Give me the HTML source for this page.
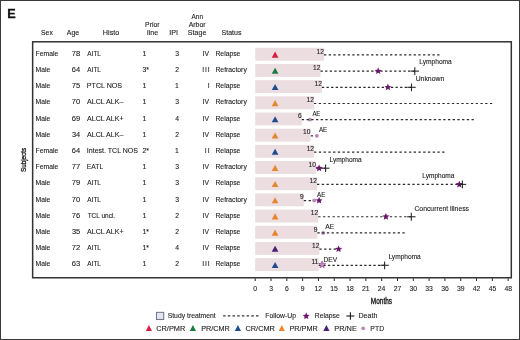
<!DOCTYPE html>
<html><head><meta charset="utf-8"><style>
html,body{margin:0;padding:0;background:#fff;}
svg{display:block;font-family:"Liberation Sans",sans-serif;will-change:transform;}
</style></head><body>
<svg width="520" height="340" viewBox="0 0 520 340">
<rect width="520" height="340" fill="#fff"/>
<rect x="0.5" y="0.5" width="519" height="339" fill="none" stroke="#3a3a3a" stroke-width="1"/>
<text x="7.30" y="17.90" font-size="13" font-weight="bold" fill="#111" textLength="8.44" lengthAdjust="spacingAndGlyphs" stroke="#111" stroke-width="0.3">E</text>
<text x="40.99" y="35.30" font-size="6.6" fill="#222" textLength="11.89" lengthAdjust="spacingAndGlyphs" stroke="#222" stroke-width="0.1">Sex</text>
<text x="66.79" y="35.30" font-size="6.6" fill="#222" textLength="12.32" lengthAdjust="spacingAndGlyphs" stroke="#222" stroke-width="0.1">Age</text>
<text x="102.81" y="35.30" font-size="6.6" fill="#222" textLength="16.50" lengthAdjust="spacingAndGlyphs" stroke="#222" stroke-width="0.1">Histo</text>
<text x="145.14" y="26.80" font-size="6.6" fill="#222" textLength="14.48" lengthAdjust="spacingAndGlyphs" stroke="#222" stroke-width="0.1">Prior</text>
<text x="147.12" y="35.00" font-size="6.6" fill="#222" textLength="11.10" lengthAdjust="spacingAndGlyphs" stroke="#222" stroke-width="0.1">line</text>
<text x="169.23" y="35.00" font-size="6.6" fill="#222" textLength="8.83" lengthAdjust="spacingAndGlyphs" stroke="#222" stroke-width="0.1">IPI</text>
<text x="191.49" y="18.50" font-size="6.6" fill="#222" textLength="11.53" lengthAdjust="spacingAndGlyphs" stroke="#222" stroke-width="0.1">Ann</text>
<text x="188.69" y="26.80" font-size="6.6" fill="#222" textLength="16.93" lengthAdjust="spacingAndGlyphs" stroke="#222" stroke-width="0.1">Arbor</text>
<text x="187.88" y="35.00" font-size="6.6" fill="#222" textLength="18.43" lengthAdjust="spacingAndGlyphs" stroke="#222" stroke-width="0.1">Stage</text>
<text x="221.58" y="35.00" font-size="6.6" fill="#222" textLength="19.87" lengthAdjust="spacingAndGlyphs" stroke="#222" stroke-width="0.1">Status</text>
<text x="35.54" y="55.95" font-size="6.8" fill="#222" stroke="#222" stroke-width="0.1">Female</text>
<text x="71.81" y="55.95" font-size="6.8" fill="#222" textLength="8.42" lengthAdjust="spacingAndGlyphs" stroke="#222" stroke-width="0.1">78</text>
<text x="87.29" y="55.95" font-size="6.8" fill="#222" textLength="13.63" lengthAdjust="spacingAndGlyphs" stroke="#222" stroke-width="0.1">AITL</text>
<text x="142.60" y="55.95" font-size="6.8" fill="#222" stroke="#222" stroke-width="0.1">1</text>
<text x="175.23" y="55.95" font-size="6.8" fill="#222" stroke="#222" stroke-width="0.1">3</text>
<text x="202.61" y="55.95" font-size="6.8" fill="#222" stroke="#222" stroke-width="0.1">IV</text>
<text x="215.44" y="55.95" font-size="6.8" fill="#222" stroke="#222" stroke-width="0.1">Relapse</text>
<text x="35.54" y="72.13" font-size="6.8" fill="#222" stroke="#222" stroke-width="0.1">Male</text>
<text x="71.82" y="72.13" font-size="6.8" fill="#222" textLength="8.30" lengthAdjust="spacingAndGlyphs" stroke="#222" stroke-width="0.1">64</text>
<text x="87.29" y="72.13" font-size="6.8" fill="#222" textLength="13.63" lengthAdjust="spacingAndGlyphs" stroke="#222" stroke-width="0.1">AITL</text>
<text x="142.60" y="72.13" font-size="6.8" fill="#222" stroke="#222" stroke-width="0.1">3*</text>
<text x="175.21" y="72.13" font-size="6.8" fill="#222" stroke="#222" stroke-width="0.1">2</text>
<text x="202.27" y="72.13" font-size="6.8" fill="#222" textLength="7.36" lengthAdjust="spacing" stroke="#222" stroke-width="0.1">III</text>
<text x="215.44" y="72.13" font-size="6.8" fill="#222" stroke="#222" stroke-width="0.1">Refractory</text>
<text x="35.54" y="88.31" font-size="6.8" fill="#222" stroke="#222" stroke-width="0.1">Male</text>
<text x="71.81" y="88.31" font-size="6.8" fill="#222" textLength="8.40" lengthAdjust="spacingAndGlyphs" stroke="#222" stroke-width="0.1">75</text>
<text x="86.82" y="88.31" font-size="6.8" fill="#222" textLength="35.30" lengthAdjust="spacingAndGlyphs" stroke="#222" stroke-width="0.1">PTCL NOS</text>
<text x="142.60" y="88.31" font-size="6.8" fill="#222" stroke="#222" stroke-width="0.1">1</text>
<text x="175.12" y="88.31" font-size="6.8" fill="#222" stroke="#222" stroke-width="0.1">1</text>
<text x="207.74" y="88.31" font-size="6.8" fill="#222" stroke="#222" stroke-width="0.1">I</text>
<text x="215.44" y="88.31" font-size="6.8" fill="#222" stroke="#222" stroke-width="0.1">Relapse</text>
<text x="35.54" y="104.49" font-size="6.8" fill="#222" stroke="#222" stroke-width="0.1">Male</text>
<text x="71.81" y="104.49" font-size="6.8" fill="#222" textLength="8.38" lengthAdjust="spacingAndGlyphs" stroke="#222" stroke-width="0.1">70</text>
<text x="86.99" y="104.49" font-size="6.8" fill="#222" textLength="36.52" lengthAdjust="spacingAndGlyphs" stroke="#222" stroke-width="0.1">ALCL ALK–</text>
<text x="142.60" y="104.49" font-size="6.8" fill="#222" stroke="#222" stroke-width="0.1">1</text>
<text x="175.23" y="104.49" font-size="6.8" fill="#222" stroke="#222" stroke-width="0.1">3</text>
<text x="202.61" y="104.49" font-size="6.8" fill="#222" stroke="#222" stroke-width="0.1">IV</text>
<text x="215.44" y="104.49" font-size="6.8" fill="#222" stroke="#222" stroke-width="0.1">Refractory</text>
<text x="35.54" y="120.67" font-size="6.8" fill="#222" stroke="#222" stroke-width="0.1">Male</text>
<text x="71.81" y="120.67" font-size="6.8" fill="#222" textLength="8.45" lengthAdjust="spacingAndGlyphs" stroke="#222" stroke-width="0.1">69</text>
<text x="86.99" y="120.67" font-size="6.8" fill="#222" textLength="36.56" lengthAdjust="spacingAndGlyphs" stroke="#222" stroke-width="0.1">ALCL ALK+</text>
<text x="142.60" y="120.67" font-size="6.8" fill="#222" stroke="#222" stroke-width="0.1">1</text>
<text x="175.23" y="120.67" font-size="6.8" fill="#222" stroke="#222" stroke-width="0.1">4</text>
<text x="202.61" y="120.67" font-size="6.8" fill="#222" stroke="#222" stroke-width="0.1">IV</text>
<text x="215.44" y="120.67" font-size="6.8" fill="#222" stroke="#222" stroke-width="0.1">Relapse</text>
<text x="35.54" y="136.85" font-size="6.8" fill="#222" stroke="#222" stroke-width="0.1">Male</text>
<text x="71.92" y="136.85" font-size="6.8" fill="#222" textLength="8.20" lengthAdjust="spacingAndGlyphs" stroke="#222" stroke-width="0.1">34</text>
<text x="86.99" y="136.85" font-size="6.8" fill="#222" textLength="36.52" lengthAdjust="spacingAndGlyphs" stroke="#222" stroke-width="0.1">ALCL ALK–</text>
<text x="142.60" y="136.85" font-size="6.8" fill="#222" stroke="#222" stroke-width="0.1">1</text>
<text x="175.21" y="136.85" font-size="6.8" fill="#222" stroke="#222" stroke-width="0.1">2</text>
<text x="202.61" y="136.85" font-size="6.8" fill="#222" stroke="#222" stroke-width="0.1">IV</text>
<text x="215.44" y="136.85" font-size="6.8" fill="#222" stroke="#222" stroke-width="0.1">Relapse</text>
<text x="35.54" y="153.03" font-size="6.8" fill="#222" stroke="#222" stroke-width="0.1">Female</text>
<text x="71.82" y="153.03" font-size="6.8" fill="#222" textLength="8.30" lengthAdjust="spacingAndGlyphs" stroke="#222" stroke-width="0.1">64</text>
<text x="86.86" y="153.03" font-size="6.8" fill="#222" textLength="51.16" lengthAdjust="spacingAndGlyphs" stroke="#222" stroke-width="0.1">Intest. TCL NOS</text>
<text x="142.60" y="153.03" font-size="6.8" fill="#222" stroke="#222" stroke-width="0.1">2*</text>
<text x="175.12" y="153.03" font-size="6.8" fill="#222" stroke="#222" stroke-width="0.1">1</text>
<text x="204.67" y="153.03" font-size="6.8" fill="#222" textLength="5.06" lengthAdjust="spacing" stroke="#222" stroke-width="0.1">II</text>
<text x="215.44" y="153.03" font-size="6.8" fill="#222" stroke="#222" stroke-width="0.1">Relapse</text>
<text x="35.54" y="169.21" font-size="6.8" fill="#222" stroke="#222" stroke-width="0.1">Female</text>
<text x="71.81" y="169.21" font-size="6.8" fill="#222" textLength="8.47" lengthAdjust="spacingAndGlyphs" stroke="#222" stroke-width="0.1">77</text>
<text x="86.87" y="169.21" font-size="6.8" fill="#222" textLength="16.25" lengthAdjust="spacingAndGlyphs" stroke="#222" stroke-width="0.1">EATL</text>
<text x="142.60" y="169.21" font-size="6.8" fill="#222" stroke="#222" stroke-width="0.1">1</text>
<text x="175.23" y="169.21" font-size="6.8" fill="#222" stroke="#222" stroke-width="0.1">3</text>
<text x="202.61" y="169.21" font-size="6.8" fill="#222" stroke="#222" stroke-width="0.1">IV</text>
<text x="215.44" y="169.21" font-size="6.8" fill="#222" stroke="#222" stroke-width="0.1">Refractory</text>
<text x="35.54" y="185.39" font-size="6.8" fill="#222" stroke="#222" stroke-width="0.1">Male</text>
<text x="71.81" y="185.39" font-size="6.8" fill="#222" textLength="8.45" lengthAdjust="spacingAndGlyphs" stroke="#222" stroke-width="0.1">79</text>
<text x="87.29" y="185.39" font-size="6.8" fill="#222" textLength="13.63" lengthAdjust="spacingAndGlyphs" stroke="#222" stroke-width="0.1">AITL</text>
<text x="142.60" y="185.39" font-size="6.8" fill="#222" stroke="#222" stroke-width="0.1">1</text>
<text x="175.23" y="185.39" font-size="6.8" fill="#222" stroke="#222" stroke-width="0.1">3</text>
<text x="202.61" y="185.39" font-size="6.8" fill="#222" stroke="#222" stroke-width="0.1">IV</text>
<text x="215.44" y="185.39" font-size="6.8" fill="#222" stroke="#222" stroke-width="0.1">Relapse</text>
<text x="35.54" y="201.57" font-size="6.8" fill="#222" stroke="#222" stroke-width="0.1">Male</text>
<text x="71.81" y="201.57" font-size="6.8" fill="#222" textLength="8.38" lengthAdjust="spacingAndGlyphs" stroke="#222" stroke-width="0.1">70</text>
<text x="87.29" y="201.57" font-size="6.8" fill="#222" textLength="13.63" lengthAdjust="spacingAndGlyphs" stroke="#222" stroke-width="0.1">AITL</text>
<text x="142.60" y="201.57" font-size="6.8" fill="#222" stroke="#222" stroke-width="0.1">1</text>
<text x="175.23" y="201.57" font-size="6.8" fill="#222" stroke="#222" stroke-width="0.1">3</text>
<text x="202.61" y="201.57" font-size="6.8" fill="#222" stroke="#222" stroke-width="0.1">IV</text>
<text x="215.44" y="201.57" font-size="6.8" fill="#222" stroke="#222" stroke-width="0.1">Refractory</text>
<text x="35.54" y="217.75" font-size="6.8" fill="#222" stroke="#222" stroke-width="0.1">Male</text>
<text x="71.81" y="217.75" font-size="6.8" fill="#222" textLength="8.42" lengthAdjust="spacingAndGlyphs" stroke="#222" stroke-width="0.1">76</text>
<text x="87.66" y="217.75" font-size="6.8" fill="#222" textLength="27.53" lengthAdjust="spacingAndGlyphs" stroke="#222" stroke-width="0.1">TCL uncl.</text>
<text x="142.60" y="217.75" font-size="6.8" fill="#222" stroke="#222" stroke-width="0.1">1</text>
<text x="175.21" y="217.75" font-size="6.8" fill="#222" stroke="#222" stroke-width="0.1">2</text>
<text x="202.61" y="217.75" font-size="6.8" fill="#222" stroke="#222" stroke-width="0.1">IV</text>
<text x="215.44" y="217.75" font-size="6.8" fill="#222" stroke="#222" stroke-width="0.1">Relapse</text>
<text x="35.54" y="233.93" font-size="6.8" fill="#222" stroke="#222" stroke-width="0.1">Male</text>
<text x="71.92" y="233.93" font-size="6.8" fill="#222" textLength="8.30" lengthAdjust="spacingAndGlyphs" stroke="#222" stroke-width="0.1">35</text>
<text x="86.99" y="233.93" font-size="6.8" fill="#222" textLength="36.56" lengthAdjust="spacingAndGlyphs" stroke="#222" stroke-width="0.1">ALCL ALK+</text>
<text x="142.60" y="233.93" font-size="6.8" fill="#222" stroke="#222" stroke-width="0.1">1*</text>
<text x="175.21" y="233.93" font-size="6.8" fill="#222" stroke="#222" stroke-width="0.1">2</text>
<text x="202.61" y="233.93" font-size="6.8" fill="#222" stroke="#222" stroke-width="0.1">IV</text>
<text x="215.44" y="233.93" font-size="6.8" fill="#222" stroke="#222" stroke-width="0.1">Relapse</text>
<text x="35.54" y="250.11" font-size="6.8" fill="#222" stroke="#222" stroke-width="0.1">Male</text>
<text x="71.81" y="250.11" font-size="6.8" fill="#222" textLength="8.47" lengthAdjust="spacingAndGlyphs" stroke="#222" stroke-width="0.1">72</text>
<text x="87.29" y="250.11" font-size="6.8" fill="#222" textLength="13.63" lengthAdjust="spacingAndGlyphs" stroke="#222" stroke-width="0.1">AITL</text>
<text x="142.60" y="250.11" font-size="6.8" fill="#222" stroke="#222" stroke-width="0.1">1*</text>
<text x="175.23" y="250.11" font-size="6.8" fill="#222" stroke="#222" stroke-width="0.1">4</text>
<text x="202.61" y="250.11" font-size="6.8" fill="#222" stroke="#222" stroke-width="0.1">IV</text>
<text x="215.44" y="250.11" font-size="6.8" fill="#222" stroke="#222" stroke-width="0.1">Relapse</text>
<text x="35.54" y="266.29" font-size="6.8" fill="#222" stroke="#222" stroke-width="0.1">Male</text>
<text x="71.82" y="266.29" font-size="6.8" fill="#222" textLength="8.42" lengthAdjust="spacingAndGlyphs" stroke="#222" stroke-width="0.1">63</text>
<text x="87.29" y="266.29" font-size="6.8" fill="#222" textLength="13.63" lengthAdjust="spacingAndGlyphs" stroke="#222" stroke-width="0.1">AITL</text>
<text x="142.60" y="266.29" font-size="6.8" fill="#222" stroke="#222" stroke-width="0.1">1</text>
<text x="175.21" y="266.29" font-size="6.8" fill="#222" stroke="#222" stroke-width="0.1">2</text>
<text x="202.27" y="266.29" font-size="6.8" fill="#222" textLength="7.36" lengthAdjust="spacing" stroke="#222" stroke-width="0.1">III</text>
<text x="215.44" y="266.29" font-size="6.8" fill="#222" stroke="#222" stroke-width="0.1">Relapse</text>
<rect x="32.65" y="41.8" width="478.65" height="235.95" fill="none" stroke="#333" stroke-width="1.5"/>
<line x1="255.20" y1="278.3" x2="255.20" y2="281" stroke="#222" stroke-width="1"/>
<text x="253.31" y="290.70" font-size="6.8" fill="#222" stroke="#222" stroke-width="0.1">0</text>
<line x1="271.01" y1="278.3" x2="271.01" y2="281" stroke="#222" stroke-width="1"/>
<text x="269.14" y="290.70" font-size="6.8" fill="#222" stroke="#222" stroke-width="0.1">3</text>
<line x1="286.82" y1="278.3" x2="286.82" y2="281" stroke="#222" stroke-width="1"/>
<text x="284.91" y="290.70" font-size="6.8" fill="#222" stroke="#222" stroke-width="0.1">6</text>
<line x1="302.63" y1="278.3" x2="302.63" y2="281" stroke="#222" stroke-width="1"/>
<text x="300.74" y="290.70" font-size="6.8" fill="#222" stroke="#222" stroke-width="0.1">9</text>
<line x1="318.44" y1="278.3" x2="318.44" y2="281" stroke="#222" stroke-width="1"/>
<text x="314.57" y="290.70" font-size="6.8" fill="#222" stroke="#222" stroke-width="0.1">12</text>
<line x1="334.25" y1="278.3" x2="334.25" y2="281" stroke="#222" stroke-width="1"/>
<text x="330.35" y="290.70" font-size="6.8" fill="#222" stroke="#222" stroke-width="0.1">15</text>
<line x1="350.06" y1="278.3" x2="350.06" y2="281" stroke="#222" stroke-width="1"/>
<text x="346.17" y="290.70" font-size="6.8" fill="#222" stroke="#222" stroke-width="0.1">18</text>
<line x1="365.87" y1="278.3" x2="365.87" y2="281" stroke="#222" stroke-width="1"/>
<text x="362.08" y="290.70" font-size="6.8" fill="#222" stroke="#222" stroke-width="0.1">21</text>
<line x1="381.68" y1="278.3" x2="381.68" y2="281" stroke="#222" stroke-width="1"/>
<text x="377.83" y="290.70" font-size="6.8" fill="#222" stroke="#222" stroke-width="0.1">24</text>
<line x1="397.49" y1="278.3" x2="397.49" y2="281" stroke="#222" stroke-width="1"/>
<text x="393.71" y="290.70" font-size="6.8" fill="#222" stroke="#222" stroke-width="0.1">27</text>
<line x1="413.30" y1="278.3" x2="413.30" y2="281" stroke="#222" stroke-width="1"/>
<text x="409.52" y="290.70" font-size="6.8" fill="#222" stroke="#222" stroke-width="0.1">30</text>
<line x1="429.11" y1="278.3" x2="429.11" y2="281" stroke="#222" stroke-width="1"/>
<text x="425.35" y="290.70" font-size="6.8" fill="#222" stroke="#222" stroke-width="0.1">33</text>
<line x1="444.92" y1="278.3" x2="444.92" y2="281" stroke="#222" stroke-width="1"/>
<text x="441.16" y="290.70" font-size="6.8" fill="#222" stroke="#222" stroke-width="0.1">36</text>
<line x1="460.73" y1="278.3" x2="460.73" y2="281" stroke="#222" stroke-width="1"/>
<text x="456.98" y="290.70" font-size="6.8" fill="#222" stroke="#222" stroke-width="0.1">39</text>
<line x1="476.54" y1="278.3" x2="476.54" y2="281" stroke="#222" stroke-width="1"/>
<text x="472.85" y="290.70" font-size="6.8" fill="#222" stroke="#222" stroke-width="0.1">42</text>
<line x1="492.35" y1="278.3" x2="492.35" y2="281" stroke="#222" stroke-width="1"/>
<text x="488.63" y="290.70" font-size="6.8" fill="#222" stroke="#222" stroke-width="0.1">45</text>
<line x1="508.16" y1="278.3" x2="508.16" y2="281" stroke="#222" stroke-width="1"/>
<text x="504.45" y="290.70" font-size="6.8" fill="#222" stroke="#222" stroke-width="0.1">48</text>
<text x="370.87" y="303.60" font-size="8.8" fill="#1a1a1a" textLength="21.16" lengthAdjust="spacingAndGlyphs" stroke="#1a1a1a" stroke-width="0.4">Months</text>
<g transform="translate(25.5,159.9) rotate(-90)"><text x="-12.19" y="0.00" font-size="7.6" fill="#1a1a1a" textLength="24.32" lengthAdjust="spacingAndGlyphs" stroke="#1a1a1a" stroke-width="0.35">Subjects</text></g>
<rect x="255.20" y="47.80" width="68.80" height="12.9" fill="#ecdde1"/>
<rect x="255.20" y="63.98" width="65.30" height="12.9" fill="#ecdde1"/>
<rect x="255.20" y="80.16" width="66.70" height="12.9" fill="#ecdde1"/>
<rect x="255.20" y="96.34" width="58.80" height="12.9" fill="#ecdde1"/>
<rect x="255.20" y="112.52" width="46.60" height="12.9" fill="#ecdde1"/>
<rect x="255.20" y="128.70" width="55.40" height="12.9" fill="#ecdde1"/>
<rect x="255.20" y="144.88" width="58.90" height="12.9" fill="#ecdde1"/>
<rect x="255.20" y="161.06" width="60.80" height="12.9" fill="#ecdde1"/>
<rect x="255.20" y="177.24" width="61.80" height="12.9" fill="#ecdde1"/>
<rect x="255.20" y="193.42" width="48.60" height="12.9" fill="#ecdde1"/>
<rect x="255.20" y="209.60" width="63.00" height="12.9" fill="#ecdde1"/>
<rect x="255.20" y="225.78" width="62.20" height="12.9" fill="#ecdde1"/>
<rect x="255.20" y="241.96" width="64.20" height="12.9" fill="#ecdde1"/>
<rect x="255.20" y="258.14" width="63.60" height="12.9" fill="#ecdde1"/>
<polygon points="275.10,51.55 278.45,57.65 271.75,57.65" fill="#d4213d"/>
<polygon points="275.10,67.73 278.45,73.83 271.75,73.83" fill="#1b7b45"/>
<polygon points="275.10,83.91 278.45,90.01 271.75,90.01" fill="#1f4d8e"/>
<polygon points="275.10,100.09 278.45,106.19 271.75,106.19" fill="#e8862e"/>
<polygon points="275.10,116.27 278.45,122.37 271.75,122.37" fill="#1f4d8e"/>
<polygon points="275.10,132.45 278.45,138.55 271.75,138.55" fill="#e8862e"/>
<polygon points="275.10,148.63 278.45,154.73 271.75,154.73" fill="#1f4d8e"/>
<polygon points="275.10,164.81 278.45,170.91 271.75,170.91" fill="#e8862e"/>
<polygon points="275.10,180.99 278.45,187.09 271.75,187.09" fill="#e8862e"/>
<polygon points="275.10,197.17 278.45,203.27 271.75,203.27" fill="#e8862e"/>
<polygon points="275.10,213.35 278.45,219.45 271.75,219.45" fill="#e8862e"/>
<polygon points="275.10,229.53 278.45,235.63 271.75,235.63" fill="#e8862e"/>
<polygon points="275.10,245.71 278.45,251.81 271.75,251.81" fill="#4b1f78"/>
<polygon points="275.10,261.89 278.45,267.99 271.75,267.99" fill="#1f4d8e"/>
<text x="316.59" y="53.55" font-size="6.6" fill="#222" stroke="#222" stroke-width="0.1">12</text>
<text x="313.09" y="69.73" font-size="6.6" fill="#222" stroke="#222" stroke-width="0.1">12</text>
<text x="314.49" y="85.91" font-size="6.6" fill="#222" stroke="#222" stroke-width="0.1">12</text>
<text x="306.59" y="102.09" font-size="6.6" fill="#222" stroke="#222" stroke-width="0.1">12</text>
<text x="298.02" y="118.27" font-size="6.6" fill="#222" stroke="#222" stroke-width="0.1">6</text>
<text x="303.12" y="134.45" font-size="6.6" fill="#222" stroke="#222" stroke-width="0.1">10</text>
<text x="306.69" y="150.63" font-size="6.6" fill="#222" stroke="#222" stroke-width="0.1">12</text>
<text x="308.52" y="166.81" font-size="6.6" fill="#222" stroke="#222" stroke-width="0.1">10</text>
<text x="309.59" y="182.99" font-size="6.6" fill="#222" stroke="#222" stroke-width="0.1">12</text>
<text x="300.04" y="199.17" font-size="6.6" fill="#222" stroke="#222" stroke-width="0.1">9</text>
<text x="310.79" y="215.35" font-size="6.6" fill="#222" stroke="#222" stroke-width="0.1">12</text>
<text x="313.64" y="231.53" font-size="6.6" fill="#222" stroke="#222" stroke-width="0.1">9</text>
<text x="311.99" y="247.71" font-size="6.6" fill="#222" stroke="#222" stroke-width="0.1">12</text>
<text x="311.38" y="263.89" font-size="6.6" fill="#222" stroke="#222" stroke-width="0.1">11</text>
<line x1="324.00" y1="54.95" x2="439.50" y2="54.95" stroke="#2a2a2a" stroke-width="1.2" stroke-dasharray="2.3 2.416"/>
<line x1="320.50" y1="71.13" x2="414.80" y2="71.13" stroke="#2a2a2a" stroke-width="1.2" stroke-dasharray="2.3 2.305"/>
<polygon points="378.20,67.43 379.22,69.72 381.72,69.99 379.85,71.67 380.37,74.12 378.20,72.87 376.03,74.12 376.55,71.67 374.68,69.99 377.18,69.72" fill="#6b1a6b"/>
<line x1="410.60" y1="71.13" x2="419.00" y2="71.13" stroke="#2a2a2a" stroke-width="1.1"/><line x1="414.80" y1="67.23" x2="414.80" y2="75.03" stroke="#2a2a2a" stroke-width="1.1"/>
<text x="419.26" y="64.20" font-size="6.5" fill="#222" textLength="32.54" lengthAdjust="spacingAndGlyphs" stroke="#222" stroke-width="0.1">Lymphoma</text>
<line x1="321.90" y1="87.31" x2="411.50" y2="87.31" stroke="#2a2a2a" stroke-width="1.2" stroke-dasharray="2.3 2.300"/>
<polygon points="387.90,83.61 388.92,85.90 391.42,86.17 389.55,87.85 390.07,90.30 387.90,89.05 385.73,90.30 386.25,87.85 384.38,86.17 386.88,85.90" fill="#6b1a6b"/>
<line x1="407.30" y1="87.31" x2="415.70" y2="87.31" stroke="#2a2a2a" stroke-width="1.1"/><line x1="411.50" y1="83.41" x2="411.50" y2="91.21" stroke="#2a2a2a" stroke-width="1.1"/>
<text x="415.67" y="81.00" font-size="6.5" fill="#222" textLength="28.57" lengthAdjust="spacingAndGlyphs" stroke="#222" stroke-width="0.1">Unknown</text>
<line x1="314.00" y1="103.49" x2="492.30" y2="103.49" stroke="#2a2a2a" stroke-width="1.2" stroke-dasharray="2.3 2.455"/>
<circle cx="309.90" cy="119.67" r="1.95" fill="#b98ab6"/>
<line x1="301.80" y1="119.67" x2="473.80" y2="119.67" stroke="#2a2a2a" stroke-width="1.2" stroke-dasharray="2.3 2.414"/>
<text x="312.39" y="115.60" font-size="6.5" fill="#222" textLength="7.97" lengthAdjust="spacingAndGlyphs" stroke="#222" stroke-width="0.1">AE</text>
<line x1="310.80" y1="135.85" x2="313.20" y2="135.85" stroke="#2a2a2a" stroke-width="1.2" stroke-dasharray="2.3 2.500"/>
<circle cx="316.90" cy="135.85" r="1.95" fill="#b98ab6"/>
<text x="318.99" y="131.80" font-size="6.5" fill="#222" textLength="8.28" lengthAdjust="spacingAndGlyphs" stroke="#222" stroke-width="0.1">AE</text>
<line x1="314.10" y1="152.03" x2="444.50" y2="152.03" stroke="#2a2a2a" stroke-width="1.2" stroke-dasharray="2.3 2.443"/>
<line x1="316.00" y1="168.21" x2="325.60" y2="168.21" stroke="#2a2a2a" stroke-width="1.2" stroke-dasharray="2.3 1.700"/>
<polygon points="319.10,164.51 320.12,166.80 322.62,167.07 320.75,168.75 321.27,171.20 319.10,169.95 316.93,171.20 317.45,168.75 315.58,167.07 318.08,166.80" fill="#6b1a6b"/>
<line x1="321.80" y1="168.21" x2="329.40" y2="168.21" stroke="#2a2a2a" stroke-width="1.1"/><line x1="325.60" y1="164.41" x2="325.60" y2="172.01" stroke="#2a2a2a" stroke-width="1.1"/>
<text x="329.47" y="161.50" font-size="6.5" fill="#222" textLength="32.23" lengthAdjust="spacingAndGlyphs" stroke="#222" stroke-width="0.1">Lymphoma</text>
<line x1="317.00" y1="184.39" x2="462.40" y2="184.39" stroke="#2a2a2a" stroke-width="1.2" stroke-dasharray="2.3 2.468"/>
<polygon points="459.30,180.69 460.32,182.98 462.82,183.25 460.95,184.93 461.47,187.38 459.30,186.13 457.13,187.38 457.65,184.93 455.78,183.25 458.28,182.98" fill="#6b1a6b"/>
<line x1="458.60" y1="184.39" x2="466.20" y2="184.39" stroke="#2a2a2a" stroke-width="1.1"/><line x1="462.40" y1="180.59" x2="462.40" y2="188.19" stroke="#2a2a2a" stroke-width="1.1"/>
<text x="422.27" y="178.00" font-size="6.5" fill="#222" textLength="32.13" lengthAdjust="spacingAndGlyphs" stroke="#222" stroke-width="0.1">Lymphoma</text>
<line x1="303.80" y1="200.57" x2="311.00" y2="200.57" stroke="#2a2a2a" stroke-width="1.2" stroke-dasharray="2.3 2.500"/>
<circle cx="314.20" cy="200.57" r="1.95" fill="#b98ab6"/>
<text x="316.99" y="196.60" font-size="6.5" fill="#222" textLength="8.38" lengthAdjust="spacingAndGlyphs" stroke="#222" stroke-width="0.1">AE</text>
<polygon points="319.10,196.87 320.12,199.16 322.62,199.43 320.75,201.11 321.27,203.56 319.10,202.31 316.93,203.56 317.45,201.11 315.58,199.43 318.08,199.16" fill="#6b1a6b"/>
<line x1="318.20" y1="216.75" x2="411.30" y2="216.75" stroke="#2a2a2a" stroke-width="1.2" stroke-dasharray="2.3 2.475"/>
<polygon points="385.90,213.05 386.92,215.34 389.42,215.61 387.55,217.29 388.07,219.74 385.90,218.49 383.73,219.74 384.25,217.29 382.38,215.61 384.88,215.34" fill="#6b1a6b"/>
<line x1="407.10" y1="216.75" x2="415.50" y2="216.75" stroke="#2a2a2a" stroke-width="1.1"/><line x1="411.30" y1="212.85" x2="411.30" y2="220.65" stroke="#2a2a2a" stroke-width="1.1"/>
<text x="414.45" y="210.60" font-size="6.5" fill="#222" textLength="54.59" lengthAdjust="spacingAndGlyphs" stroke="#222" stroke-width="0.1">Concurrent illness</text>
<circle cx="323.10" cy="232.93" r="1.95" fill="#b98ab6"/>
<line x1="317.40" y1="232.93" x2="404.70" y2="232.93" stroke="#2a2a2a" stroke-width="1.2" stroke-dasharray="2.3 2.421"/>
<text x="325.19" y="228.70" font-size="6.5" fill="#222" textLength="9.00" lengthAdjust="spacingAndGlyphs" stroke="#222" stroke-width="0.1">AE</text>
<line x1="319.40" y1="249.11" x2="336.00" y2="249.11" stroke="#2a2a2a" stroke-width="1.2" stroke-dasharray="2.3 2.450"/>
<polygon points="338.60,245.41 339.62,247.70 342.12,247.97 340.25,249.65 340.77,252.10 338.60,250.85 336.43,252.10 336.95,249.65 335.08,247.97 337.58,247.70" fill="#6b1a6b"/>
<line x1="318.80" y1="265.29" x2="384.60" y2="265.29" stroke="#2a2a2a" stroke-width="1.2" stroke-dasharray="2.3 2.247"/>
<polygon points="322.10,260.99 323.12,263.28 325.62,263.55 323.75,265.23 324.27,267.68 322.10,266.43 319.93,267.68 320.45,265.23 318.58,263.55 321.08,263.28" fill="#c090c0" stroke="#7a2a7a" stroke-width="0.55"/>
<line x1="380.40" y1="265.29" x2="388.80" y2="265.29" stroke="#2a2a2a" stroke-width="1.1"/><line x1="384.60" y1="261.39" x2="384.60" y2="269.19" stroke="#2a2a2a" stroke-width="1.1"/>
<text x="323.56" y="261.50" font-size="6.5" fill="#222" textLength="13.57" lengthAdjust="spacingAndGlyphs" stroke="#222" stroke-width="0.1">DEV</text>
<text x="388.46" y="258.70" font-size="6.5" fill="#222" textLength="32.34" lengthAdjust="spacingAndGlyphs" stroke="#222" stroke-width="0.1">Lymphoma</text>
<rect x="156.45" y="312.35" width="7.3" height="7.1" fill="#e3e5f0" stroke="#6e7287" stroke-width="1"/>
<text x="167.69" y="318.10" font-size="6.8" fill="#222" textLength="48.06" lengthAdjust="spacingAndGlyphs" stroke="#222" stroke-width="0.1">Study treatment</text>
<line x1="223.1" y1="315.85" x2="258.6" y2="315.85" stroke="#333" stroke-width="1.1" stroke-dasharray="2.5 2.2"/>
<text x="265.24" y="318.00" font-size="6.8" fill="#222" textLength="30.75" lengthAdjust="spacingAndGlyphs" stroke="#222" stroke-width="0.1">Follow-Up</text>
<polygon points="306.20,312.60 307.19,314.83 309.62,315.09 307.81,316.72 308.32,319.11 306.20,317.89 304.08,319.11 304.59,316.72 302.78,315.09 305.21,314.83" fill="#6b1a6b"/>
<text x="314.84" y="318.00" font-size="6.8" fill="#222" textLength="24.96" lengthAdjust="spacingAndGlyphs" stroke="#222" stroke-width="0.1">Relapse</text>
<line x1="346.35" y1="316.00" x2="354.45" y2="316.00" stroke="#1a1a1a" stroke-width="1.1"/><line x1="350.40" y1="312.20" x2="350.40" y2="319.80" stroke="#1a1a1a" stroke-width="1.1"/>
<text x="358.42" y="317.80" font-size="6.8" fill="#222" textLength="18.94" lengthAdjust="spacingAndGlyphs" stroke="#222" stroke-width="0.1">Death</text>
<polygon points="148.90,324.95 152.00,330.95 145.80,330.95" fill="#d4213d"/>
<text x="156.23" y="330.50" font-size="6.8" fill="#222" textLength="29.01" lengthAdjust="spacingAndGlyphs" stroke="#222" stroke-width="0.1">CR/PMR</text>
<polygon points="192.90,324.95 196.00,330.95 189.80,330.95" fill="#1b7b45"/>
<text x="201.20" y="330.50" font-size="6.8" fill="#222" textLength="28.63" lengthAdjust="spacingAndGlyphs" stroke="#222" stroke-width="0.1">PR/CMR</text>
<polygon points="237.90,324.95 241.00,330.95 234.80,330.95" fill="#1f4d8e"/>
<text x="245.43" y="330.50" font-size="6.8" fill="#222" textLength="29.52" lengthAdjust="spacingAndGlyphs" stroke="#222" stroke-width="0.1">CR/CMR</text>
<polygon points="281.80,324.95 284.90,330.95 278.70,330.95" fill="#e8862e"/>
<text x="289.40" y="330.50" font-size="6.8" fill="#222" textLength="28.34" lengthAdjust="spacingAndGlyphs" stroke="#222" stroke-width="0.1">PR/PMR</text>
<polygon points="326.40,324.95 329.50,330.95 323.30,330.95" fill="#4b1f78"/>
<text x="334.30" y="330.50" font-size="6.8" fill="#222" textLength="22.52" lengthAdjust="spacingAndGlyphs" stroke="#222" stroke-width="0.1">PR/NE</text>
<circle cx="363.20" cy="328.30" r="1.9" fill="#b98ab6"/>
<text x="370.33" y="330.60" font-size="6.8" fill="#222" textLength="13.80" lengthAdjust="spacingAndGlyphs" stroke="#222" stroke-width="0.1">PTD</text>
</svg>
</body></html>
